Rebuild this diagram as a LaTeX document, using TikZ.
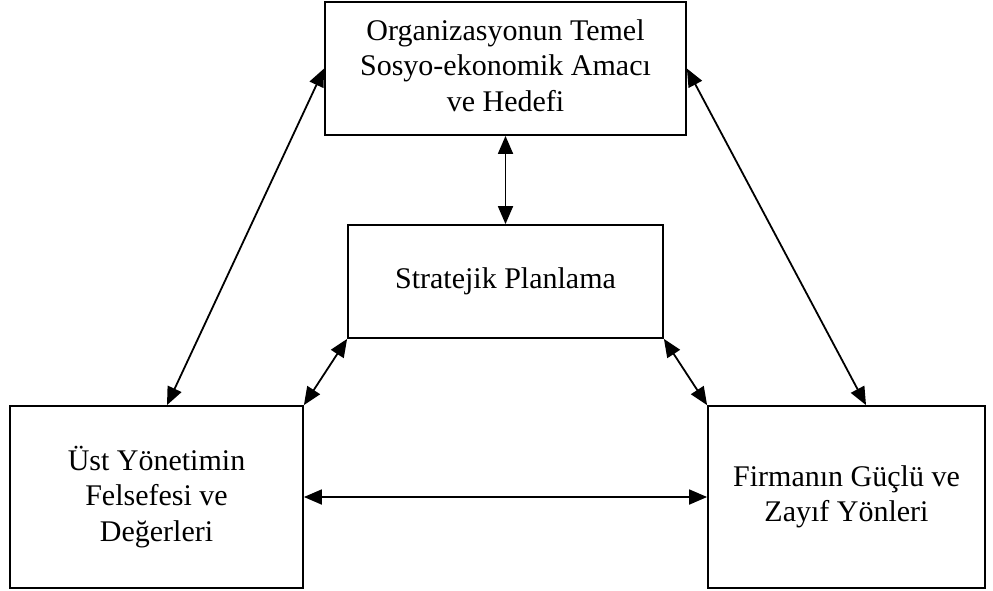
\documentclass[tikz,border=0pt]{standalone}
\usepackage{fontspec}
\setmainfont{Liberation Serif}
\usetikzlibrary{arrows.meta,calc}
\begin{document}
\begin{tikzpicture}[x=1pt,y=-1pt,
  box/.style={draw=black, line width=1.8pt, fill=white, inner sep=0pt, align=center,
    font=\fontsize{30}{35.5}\selectfont},
  link/.style={line width=1.8pt, {Triangle[length=18pt,width=15pt]}-{Triangle[length=18pt,width=15pt]}}]
\useasboundingbox (0,0) rectangle (993,590);
\node[box, minimum width=361pt, minimum height=133pt] (top) at (505.5,68.5)
  {\raisebox{3pt}{\begin{tabular}{@{}c@{}}Organizasyonun Temel\\Sosyo-ekonomik Amacı\\ve Hedefi\end{tabular}}};
\node[box, minimum width=315pt, minimum height=113pt] (mid) at (505.5,281.5)
  {Stratejik Planlama};
\node[box, minimum width=293pt, minimum height=182pt] (left) at (156.5,497)
  {Üst Yönetimin\\Felsefesi ve\\Değerleri};
\node[box, minimum width=277pt, minimum height=182pt] (right) at (846.5,497)
  {Firmanın Güçlü ve\\Zayıf Yönleri};
\coordinate (lt) at ($(left.north)+(10.5,0)$);
\coordinate (rt) at ($(right.north)+(19.5,0)$);
\draw[link] (top.west) -- (lt);
\draw[link] (top.east) -- (rt);
\draw[link] (top.south) -- (mid.north);
\draw[link] (mid.south west) -- (left.north east);
\draw[link] (mid.south east) -- (right.north west);
\draw[link] (left.east) -- (right.west);
\end{tikzpicture}
\end{document}
